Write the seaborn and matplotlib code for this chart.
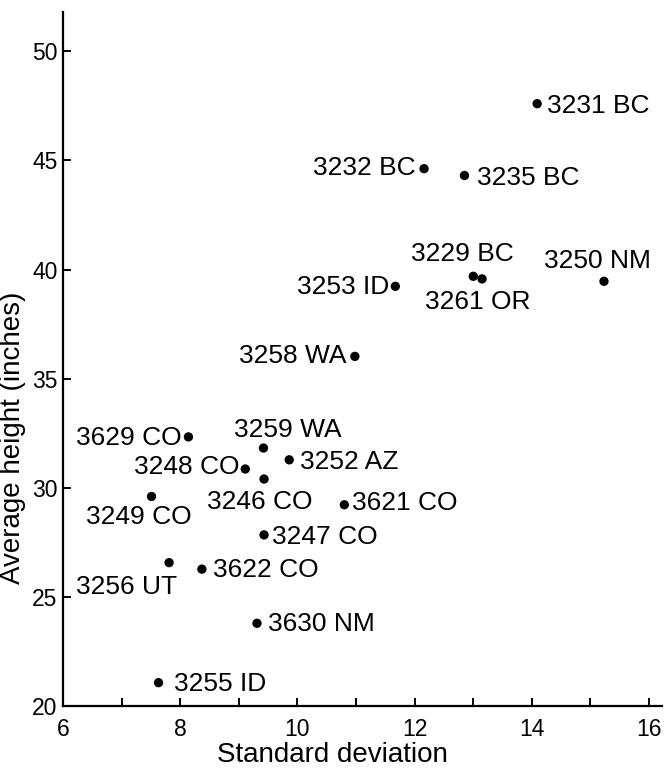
import numpy as np
import pandas as pd
import seaborn as sns
import matplotlib
matplotlib.use('Agg')
import matplotlib.pyplot as plt

sns.set_style('ticks')
plt.rcParams['font.family'] = ['Liberation Sans', 'DejaVu Sans']
plt.rcParams['text.color'] = 'black'
plt.rcParams['axes.labelcolor'] = 'black'

# data
stations = ['3231 BC', '3232 BC', '3235 BC', '3229 BC', '3261 OR', '3250 NM',
            '3253 ID', '3258 WA', '3629 CO', '3259 WA', '3248 CO', '3252 AZ',
            '3246 CO', '3249 CO', '3621 CO', '3247 CO', '3256 UT', '3622 CO',
            '3630 NM', '3255 ID']
std_dev = [14.09, 12.16, 12.85, 13.00, 13.15, 15.23,
           11.67, 10.98, 8.14, 9.42, 9.11, 9.86,
           9.43, 7.51, 10.80, 9.43, 7.81, 8.37,
           9.31, 7.63]
avg_height = [47.6, 44.62, 44.31, 39.69, 39.57, 39.46,
              39.23, 36.02, 32.33, 31.82, 30.86, 31.28,
              30.40, 29.60, 29.22, 27.84, 26.57, 26.27,
              23.79, 21.07]

# label placement (pixels from the dot, ha)
label_pos = [(10, -2, 'left'), (-8, 1, 'right'), (13, -3, 'left'), (-11, 22, 'center'),
             (-4, -23, 'center'), (-7, 20, 'center'), (-6, -1, 'right'), (-8, 0, 'right'),
             (-7, -1, 'right'), (24, 18, 'center'), (-6, 2, 'right'), (11, -2, 'left'),
             (-4, -23, 'center'), (-13, -21, 'center'), (8, 2, 'left'), (8, -2, 'left'),
             (-43, -24, 'center'), (11, -1, 'left'), (11, -1, 'left'), (15, -1, 'left')]

df = pd.DataFrame({'station': stations, 'sd': std_dev, 'height': avg_height})

fig = plt.figure(figsize=(6.65, 7.68), dpi=100)
ax = fig.add_axes([63 / 665, 1 - 706 / 768, 599 / 665, 694 / 768])

sns.scatterplot(data=df, x='sd', y='height', color='black', s=45,
                edgecolor='none', ax=ax, zorder=3)

for (name, x, y), (dx, dy, ha) in zip(df[['station', 'sd', 'height']].values, label_pos):
    ax.annotate(name, (x, y), xytext=(dx * 0.72, dy * 0.72), textcoords='offset points',
                ha=ha, va='center', fontsize=19, color='black')

ax.set_xlim(6, 16.22)
ax.set_ylim(20, 51.8)
ax.set_xticks([6, 8, 10, 12, 14, 16])
ax.set_xticks(np.arange(7, 16, 2), minor=True)
ax.set_yticks([20, 25, 30, 35, 40, 45, 50])

for side in ['top', 'right']:
    ax.spines[side].set_visible(False)
for side in ['left', 'bottom']:
    ax.spines[side].set_linewidth(1.6)
    ax.spines[side].set_color('black')

ax.tick_params(axis='both', which='both', direction='in', length=6, width=1.4,
               colors='black', labelsize=16.5)
ax.tick_params(axis='x', pad=9)
ax.tick_params(axis='y', pad=4)

ax.set_xlabel('Standard deviation', fontsize=20)
ax.set_ylabel('Average height (inches)', fontsize=20)
ax.xaxis.set_label_coords(0.45, -0.052)
ax.yaxis.set_label_coords(-0.062, 0.386)

fig.savefig('out.png', dpi=100)
